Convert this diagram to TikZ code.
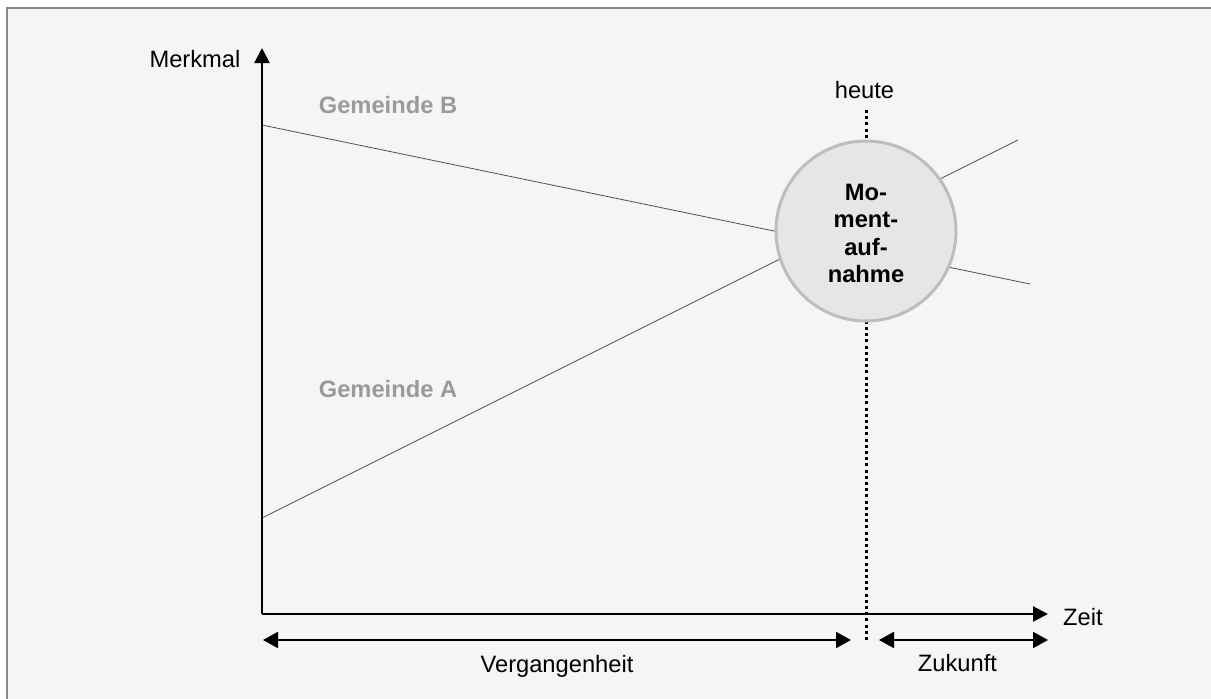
\documentclass[tikz,border=0pt]{standalone}
\usepackage{fontspec}
\setmainfont{Liberation Sans}
\usetikzlibrary{arrows.meta}
\definecolor{bgfill}{HTML}{F5F5F5}
\definecolor{framegray}{HTML}{858585}
\definecolor{labelgray}{HTML}{9A9A9A}
\definecolor{trendgray}{HTML}{505050}
\definecolor{snapfill}{HTML}{E6E6E6}
\definecolor{snapdraw}{HTML}{BDBDBD}
\begin{document}
\begin{tikzpicture}[x=1pt,y=-1pt,
  font=\fontsize{23.7}{27.5}\selectfont,
  axisline/.style={line width=2.2pt, -{Triangle[length=15pt,width=15pt]}},
  spanarrow/.style={line width=2pt, {Triangle[length=15pt,width=16pt]}-{Triangle[length=15pt,width=16pt]}},
  trend/.style={trendgray, line width=0.8pt},
  glabel/.style={labelgray, font=\fontsize{23.7}{27.5}\selectfont\bfseries, inner sep=0pt, anchor=base},
  plainlabel/.style={inner sep=0pt},
  snapshot/.style={circle, minimum size=180pt, fill=snapfill, draw=snapdraw, line width=3pt, inner sep=0pt},
  snaptext/.style={align=center, inner sep=0pt, font=\fontsize{23.7}{27.5}\selectfont\bfseries},
  todayline/.style={line width=3pt, dash pattern=on 3pt off 3.2pt}
]
\useasboundingbox (0,0) rectangle (1211,699);
\fill[white] (0,0) rectangle (1211,699);
\fill[bgfill] (7,8) rectangle (1211,699);
\draw[framegray, line width=1.5pt] (7,699) -- (7,8) -- (1211,8);

% coordinates
\coordinate (O) at (262,614);
\coordinate (ytip) at (262,48);
\coordinate (xtip) at (1048,614);
\coordinate (b0) at (262,125);
\coordinate (b1) at (1030,284);
\coordinate (a0) at (262,518);
\coordinate (a1) at (1018,140);
\coordinate (dtop) at (866,110);
\coordinate (dbot) at (866,642);
\coordinate (vl) at (263,640);
\coordinate (vr) at (851,640);
\coordinate (zl) at (879,640);
\coordinate (zr) at (1048,640);

% trend lines
\draw[trend] (b0) -- (b1);
\draw[trend] (a0) -- (a1);

% today line
\draw[todayline] (dtop) -- (dbot);

% snapshot circle
\node[snapshot] (snap) at (866,231) {};
\node[snaptext] (snaplabel) at (866,233.5) {Mo-\\ment-\\auf-\\nahme};

% axes
\draw[axisline] (O) -- (ytip);
\draw[axisline] (O) -- (xtip);

% span arrows
\draw[spanarrow] (vl) -- (vr);
\draw[spanarrow] (zl) -- (zr);

% labels
\node[plainlabel, anchor=base] (merkmal) at (195,67) {Merkmal};
\node[plainlabel, anchor=base west] (zeit) at (1063,625) {Zeit};
\node[plainlabel, anchor=base] (heute) at (864.5,98) {heute};
\node[plainlabel, anchor=base] (verg) at (557,672) {Vergangenheit};
\node[plainlabel, anchor=base] (zuk) at (957.5,671) {Zukunft};
\node[glabel] (gB) at (388,113) {Gemeinde B};
\node[glabel] (gA) at (388,397) {Gemeinde A};
\end{tikzpicture}
\end{document}
